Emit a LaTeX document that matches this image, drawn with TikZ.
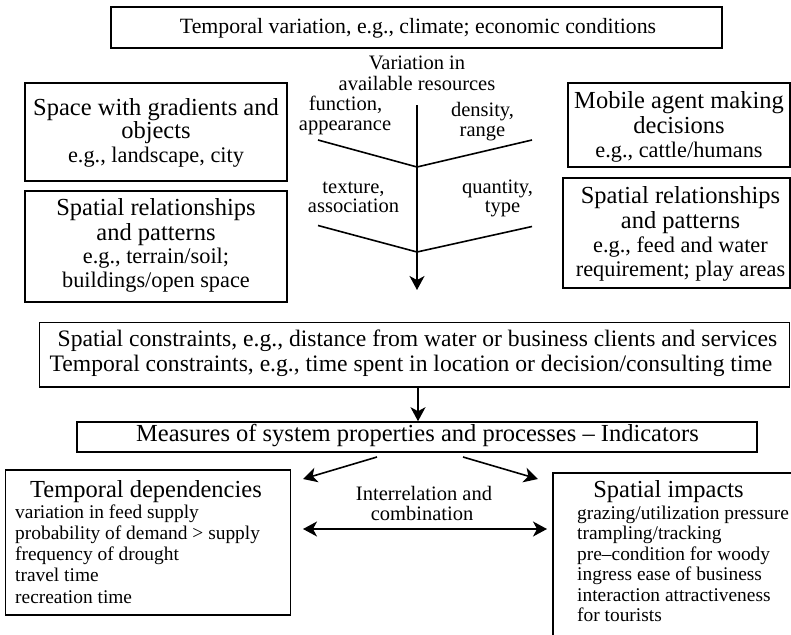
\documentclass[tikz,border=0pt]{standalone}
\usepackage{fontspec}
\setmainfont{Liberation Serif}
\usetikzlibrary{arrows.meta}
\newcommand\szTop{\fontsize{21.8}{26}\selectfont}
\newcommand\szHead{\fontsize{24.5}{28}\selectfont}
\newcommand\szEg{\fontsize{22.3}{26}\selectfont}
\newcommand\szLab{\fontsize{20.5}{24}\selectfont}
\newcommand\szCons{\fontsize{23.6}{27}\selectfont}
\newcommand\szList{\fontsize{19.4}{22}\selectfont}
\tikzset{
  box/.style={draw, line width=1.6pt, inner sep=0pt},
  txt/.style={inner sep=0pt, anchor=base},
  conn/.style={line width=1.6pt},
  arr/.style={line width=1.6pt, -{Stealth[length=14pt,width=15pt,inset=4pt]}},
  darr/.style={line width=1.6pt, {Stealth[length=14pt,width=15pt,inset=4pt]}-{Stealth[length=14pt,width=15pt,inset=4pt]}}
}
\begin{document}
\begin{tikzpicture}[x=1pt,y=-1pt]
\path[use as bounding box] (0,0) rectangle (791,634);
\clip (0,0) rectangle (791,634);
% boxes
\node[box, minimum width=611pt, minimum height=41pt] (top) at (416.5,27.5) {};
\node[box, minimum width=262pt, minimum height=98pt] (l1) at (156,132) {};
\node[box, minimum width=262pt, minimum height=111pt] (l2) at (156,246.5) {};
\node[box, minimum width=222pt, minimum height=84pt] (r1) at (679,125) {};
\node[box, minimum width=227pt, minimum height=110pt] (r2) at (676.5,233) {};
\node[box, minimum width=750pt, minimum height=64.5pt] (cons) at (414.5,354.75) {};
\node[box, minimum width=680pt, minimum height=30pt] (meas) at (417,437) {};
\node[box, minimum width=285pt, minimum height=145pt] (td) at (148,542.5) {};
\node[box, minimum width=242pt, minimum height=167pt] (si) at (674,556.5) {};
% top text
\node[txt, font=\szTop] (ttop) at (418,33.5) {Temporal variation, e.g., climate; economic conditions};
% left box 1
\node[txt, font=\szHead] (l1a) at (156,115) {Space with gradients and};
\node[txt, font=\szHead] (l1b) at (156,138.5) {objects};
\node[txt, font=\szEg] (l1c) at (156,162) {e.g., landscape, city};
% left box 2
\node[txt, font=\szHead] (l2a) at (156,215) {Spatial relationships};
\node[txt, font=\szHead] (l2b) at (156,240) {and patterns};
\node[txt, font=\szEg] (l2c) at (156,263) {e.g., terrain/soil;};
\node[txt, font=\szEg] (l2d) at (156,287) {buildings/open space};
% right box 1
\node[txt, font=\szHead] (r1a) at (679,108) {Mobile agent making};
\node[txt, font=\szHead] (r1b) at (679,133) {decisions};
\node[txt, font=\szEg] (r1c) at (679,157) {e.g., cattle/humans};
% right box 2
\node[txt, font=\szHead] (r2a) at (680.5,203) {Spatial relationships};
\node[txt, font=\szHead] (r2b) at (680.5,228) {and patterns};
\node[txt, font=\szEg] (r2c) at (680.5,252) {e.g., feed and water};
\node[txt, font=\szEg] (r2d) at (680.5,276) {requirement; play areas};
% centre labels
\node[txt, font=\szLab] (va) at (417,70) {Variation in};
\node[txt, font=\szLab] (vb) at (417,90) {available resources};
\node[txt, font=\szLab] (fa) at (345.5,110.5) {function,};
\node[txt, font=\szLab] (fb) at (345,130.5) {appearance};
\node[txt, font=\szLab] (da) at (482.5,116.5) {density,};
\node[txt, font=\szLab] (db) at (482.5,136.5) {range};
\node[txt, font=\szLab] (ta) at (353.5,193) {texture,};
\node[txt, font=\szLab] (tb) at (353.5,212) {association};
\node[txt, font=\szLab] (qa) at (497.5,193) {quantity,};
\node[txt, font=\szLab] (qb) at (502.5,212) {type};
% constraints and measures
\node[txt, font=\szCons] (c1) at (417.5,346.7) {Spatial constraints, e.g., distance from water or business clients and services};
\node[txt, font=\szCons] (c2) at (411,371.7) {Temporal constraints, e.g., time spent in location or decision/consulting time};
\node[txt, font=\szHead] (m1) at (417.5,441.7) {Measures of system properties and processes – Indicators};
% interrelation
\node[txt, font=\szLab] (ia) at (424,500.7) {Interrelation and};
\node[txt, font=\szLab] (ib) at (422,520) {combination};
% temporal dependencies
\node[txt, font=\szHead] (tdh) at (146,497.3) {Temporal dependencies};
\foreach \t [count=\i] in {variation in feed supply, probability of demand > supply, frequency of drought, travel time, recreation time}
  \node[txt, anchor=base west, font=\szList] (td\i) at (15,{518+21.3*(\i-1)}) {\t};
% spatial impacts
\node[txt, font=\szHead] (sih) at (668.5,497) {Spatial impacts};
\foreach \t [count=\i] in {grazing/utilization pressure, trampling/tracking, pre–condition for woody, ingress ease of business, interaction attractiveness, for tourists}
  \node[txt, anchor=base west, font=\szList] (si\i) at (577,{519+20.5*(\i-1)}) {\t};
% central arrow and V lines
\coordinate (vtop) at (417,105);
\coordinate (vbot) at (417,290);
\coordinate (v1l) at (318,140);
\coordinate (v1m) at (417,167);
\coordinate (v1r) at (532,140);
\coordinate (v2l) at (318,225.5);
\coordinate (v2m) at (417,252);
\coordinate (v2r) at (532,226.5);
\draw[arr] (vtop) -- (vbot);
\draw[conn] (v1l) -- (v1m) -- (v1r);
\draw[conn] (v2l) -- (v2m) -- (v2r);
% constraints -> measures
\draw[arr] ([xshift=3.5pt]cons.south) -- ([xshift=1pt]meas.north);
% measures -> dependencies / impacts
\coordinate (a1s) at (377,457);
\coordinate (a1e) at (303,479);
\coordinate (a2s) at (463,457);
\coordinate (a2e) at (538,479);
\draw[arr] (a1s) -- (a1e);
\draw[arr] (a2s) -- (a2e);
\coordinate (dl) at (303,529);
\coordinate (dr) at (547,529);
\draw[darr] (dl) -- (dr);
\end{tikzpicture}
\end{document}
